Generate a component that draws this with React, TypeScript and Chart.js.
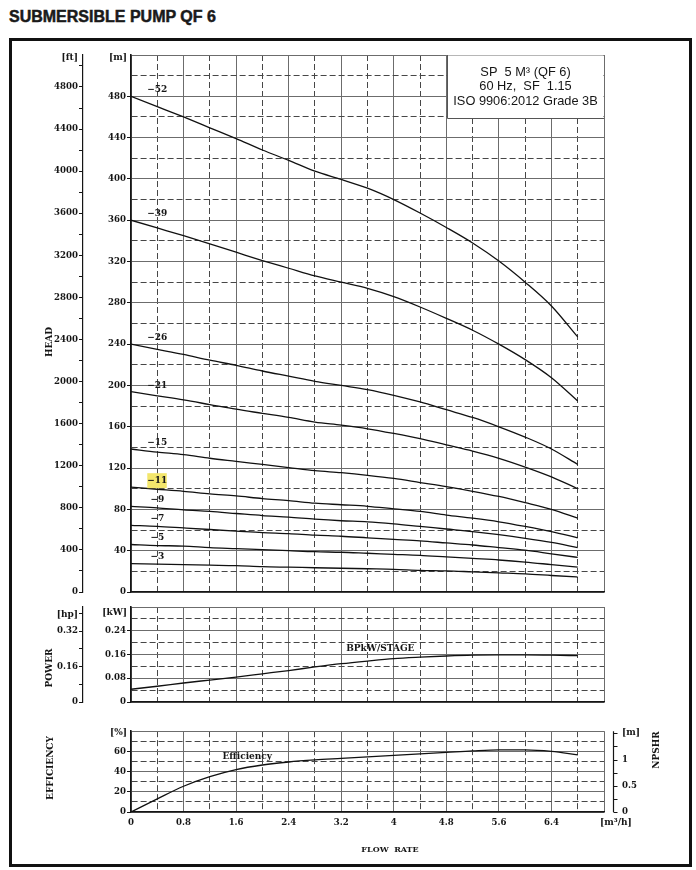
import React, { useEffect, useRef } from 'react';
import { Chart, registerables } from 'chart.js';

Chart.register(...registerables);

// ---------------- data ----------------
const FLOW = [0, 0.4, 0.8, 1.2, 1.6, 2.0, 2.4, 2.8, 3.2, 3.6, 4.0, 4.4, 4.8, 5.2, 5.6, 6.0, 6.4, 6.8];

const STAGES = [52, 39, 26, 21, 15, 11, 9, 7, 5, 3];
const HEAD_52 = [480, 470, 460, 449.5, 439, 428, 418, 407.5, 399.5, 391, 380, 367, 353, 338, 320.5, 300, 277, 247];
const HEAD_39 = [360, 352.5, 345, 337, 329, 321, 313.5, 306, 300, 294, 286, 276, 265, 253.5, 240, 225, 207.5, 185];
const HEAD_26 = [240, 235, 230, 224.5, 219.5, 214, 209, 204, 200, 196, 190.5, 184, 176.5, 169, 160, 150, 138.5, 123.5];
const HEAD_21 = [194, 190, 186, 181.5, 177, 173, 169, 164.5, 161.5, 158, 153.5, 148.5, 142.5, 136.5, 129.5, 121, 111.5, 100];
const HEAD_15 = [138.5, 135.5, 133, 129.5, 126.5, 123.5, 120.5, 117.5, 115.5, 113, 110, 106, 102, 97.5, 92.5, 86.5, 80, 71.5];
const HEAD_11 = [101.5, 99.5, 97.5, 95, 93, 90.5, 88.5, 86, 84.5, 83, 80.5, 78, 74.5, 71.5, 68, 63.5, 58.5, 52.5];
const HEAD_9 = [83, 81.5, 79.5, 78, 76, 74, 72.5, 70.5, 69, 68, 66, 63.5, 61, 58.5, 55.5, 52, 48, 43];
const HEAD_7 = [64.5, 63.5, 62, 60.5, 59, 57.5, 56.5, 55, 54, 52.5, 51, 49.5, 47.5, 45.5, 43, 40.5, 37, 33.5];
const HEAD_5 = [46, 45, 44.5, 43, 42, 41, 40, 39, 38.5, 37.5, 36.5, 35.5, 34, 32.5, 31, 29, 26.5, 24];
const HEAD_3 = [27.5, 27, 26.5, 26, 25.5, 24.5, 24, 23.5, 23, 22.5, 22, 21, 20.5, 19.5, 18.5, 17.5, 16, 14.5];
const HEAD_CURVES = [HEAD_52, HEAD_39, HEAD_26, HEAD_21, HEAD_15, HEAD_11, HEAD_9, HEAD_7, HEAD_5, HEAD_3];
const HIGHLIGHT_STAGE = 11;

const POWER_KW = [0.043, 0.053, 0.064, 0.074, 0.084, 0.095, 0.106, 0.118, 0.129, 0.138, 0.146, 0.151, 0.155, 0.158, 0.159, 0.159, 0.158, 0.156];
const EFFICIENCY = [0, 13, 25.5, 35, 42, 46.5, 49.5, 51.5, 53, 54.5, 56, 57.5, 59, 60.5, 61.5, 61.5, 60, 56.5];

// ---------------- ticks ----------------
const FLOW_TICKS = [0, 0.4, 0.8, 1.2, 1.6, 2, 2.4, 2.8, 3.2, 3.6, 4, 4.4, 4.8, 5.2, 5.6, 6, 6.4, 6.8, 7.2];
const FLOW_MAJOR = [0, 0.8, 1.6, 2.4, 3.2, 4, 4.8, 5.6, 6.4, 7.2];
const FLOW_LABELS = [0, 0.8, 1.6, 2.4, 3.2, 4, 4.8, 5.6, 6.4];

const HEAD_M_TICKS = [0, 20, 40, 60, 80, 100, 120, 140, 160, 180, 200, 220, 240, 260, 280, 300, 320, 340, 360, 380, 400, 420, 440, 460, 480, 500, 520];
const HEAD_M_MAJOR = [0, 40, 80, 120, 160, 200, 240, 280, 320, 360, 400, 440, 480, 520];
const HEAD_M_LABELS = [0, 40, 80, 120, 160, 200, 240, 280, 320, 360, 400, 440, 480];
const HEAD_FT_TICKS = [0, 200, 400, 600, 800, 1000, 1200, 1400, 1600, 1800, 2000, 2200, 2400, 2600, 2800, 3000, 3200, 3400, 3600, 3800, 4000, 4200, 4400, 4600, 4800, 5000];
const HEAD_FT_LABELS = [0, 400, 800, 1200, 1600, 2000, 2400, 2800, 3200, 3600, 4000, 4400, 4800];

const POWER_KW_TICKS = [0, 0.04, 0.08, 0.12, 0.16, 0.2, 0.24, 0.28, 0.32];
const POWER_KW_MAJOR = [0, 0.08, 0.16, 0.24, 0.32];
const POWER_KW_LABELS = [0, 0.08, 0.16, 0.24];
const POWER_HP_TICKS = [0, 0.08, 0.16, 0.24, 0.32, 0.4];
const POWER_HP_LABELS = [0, 0.16, 0.32];

const EFF_TICKS = [0, 10, 20, 30, 40, 50, 60, 70, 80];
const EFF_MAJOR = [0, 20, 40, 60, 80];
const EFF_LABELS = [0, 20, 40, 60];
const NPSH_TICKS = [0, 0.25, 0.5, 0.75, 1, 1.25, 1.5];
const NPSH_LABELS = [0, 0.5, 1];

// ---------------- styles ----------------
const SERIF = "'DejaVu Serif', 'Liberation Serif', serif";
const SANS = "'Liberation Sans', Arial, sans-serif";
const TICK_FONT = { family: SERIF, size: 8.6, weight: 'bold' as const };
const TEXT = '#161616';
const AXIS = '#151515';
const SOLID = '#6c6c6c';
const DASHED = '#474747';
const CLEAR = 'rgba(0,0,0,0)';
const CURVE = '#111';

const HEAD_BOX = { left: 12, top: 42, width: 600, height: 560 };
const POWER_BOX = { left: 12, top: 598, width: 600, height: 116 };
const EFF_BOX = { left: 12, top: 708, width: 678, height: 154 };

// ---------------- helpers ----------------
const inList = (arr: number[], v: number) => arr.some((a) => Math.abs(a - v) < 1e-9);
const setTicks = (values: number[]) => (scale: any) => {
  scale.ticks = values.map((value) => ({ value }));
};
const fixWidth = (w: number) => (scale: any) => {
  scale.width = w;
};
const fixHeight = (h: number) => (scale: any) => {
  scale.height = h;
};

function gridOpts(major: number[], extra: any = {}) {
  return {
    grid: {
      color: (c: any) => (c.tick && inList(major, c.tick.value) ? SOLID : DASHED),
      lineWidth: 1,
      drawTicks: false,
      ...extra,
    },
    border: {
      color: AXIS,
      width: 1.6,
      dash: (c: any) => (c.tick && !inList(major, c.tick.value) ? [6, 3] : []),
    },
  };
}

function flowAxis(showLabels: boolean, height: number) {
  return {
    type: 'linear',
    position: 'bottom',
    min: 0,
    max: 7.2,
    afterBuildTicks: setTicks(FLOW_TICKS),
    ticks: {
      display: showLabels,
      autoSkip: false,
      maxRotation: 0,
      minRotation: 0,
      padding: 6,
      font: TICK_FONT,
      color: TEXT,
      callback: (v: number) => (inList(FLOW_LABELS, v) ? String(v) : ''),
    },
    ...gridOpts(FLOW_MAJOR),
    afterFit: fixHeight(height),
  };
}

function leftAxis(min: number, max: number, ticks: number[], major: number[], labels: number[], width: number) {
  return {
    type: 'linear',
    position: 'left',
    weight: 0,
    min,
    max,
    afterBuildTicks: setTicks(ticks),
    ticks: {
      autoSkip: false,
      padding: 1,
      font: TICK_FONT,
      color: TEXT,
      callback: (v: number) => (inList(labels, v) ? String(v) : ''),
    },
    ...gridOpts(major, {
      drawTicks: true,
      tickLength: 4,
      tickWidth: 1,
      tickColor: (c: any) => (c.tick && inList(labels, c.tick.value) ? AXIS : CLEAR),
    }),
    afterFit: fixWidth(width),
  };
}

function outerAxis(max: number, ticks: number[], labels: number[], width: number) {
  return {
    type: 'linear',
    position: 'left',
    weight: 1,
    min: 0,
    max,
    afterBuildTicks: setTicks(ticks),
    ticks: {
      autoSkip: false,
      padding: 1,
      font: TICK_FONT,
      color: TEXT,
      callback: (v: number) => (inList(labels, v) ? String(v) : ''),
    },
    grid: { drawOnChartArea: false, drawTicks: true, tickLength: 4, tickWidth: 1, tickColor: AXIS, color: AXIS },
    border: { color: AXIS, width: 1.2 },
    afterFit: fixWidth(width),
  };
}

function txt(ctx: CanvasRenderingContext2D, s: string, x: number, y: number, font: string, align: CanvasTextAlign = 'center') {
  ctx.save();
  ctx.font = font;
  ctx.fillStyle = TEXT;
  ctx.textAlign = align;
  ctx.textBaseline = 'middle';
  ctx.fillText(s, x, y);
  ctx.restore();
}
function vtxt(ctx: CanvasRenderingContext2D, s: string, x: number, y: number, font: string) {
  ctx.save();
  ctx.translate(x, y);
  ctx.rotate(-Math.PI / 2);
  ctx.font = font;
  ctx.fillStyle = TEXT;
  ctx.textAlign = 'center';
  ctx.textBaseline = 'middle';
  ctx.fillText(s, 0, 0);
  ctx.restore();
}

const LABEL_FONT = `bold 9px ${SERIF}`;
const UNIT_FONT = `bold 9px ${SERIF}`;

function lineDataset(values: number[]) {
  return {
    data: FLOW.map((x, i) => ({ x, y: values[i] })),
    borderColor: CURVE,
    borderWidth: 1.3,
    pointRadius: 0,
    fill: false,
    cubicInterpolationMode: 'monotone' as const,
  };
}

const baseOptions = (padding: any) => ({
  animation: false,
  responsive: false,
  maintainAspectRatio: false,
  events: [],
  layout: { padding },
  plugins: { legend: { display: false }, tooltip: { enabled: false }, title: { display: false } },
});

// ---------------- chart configs ----------------
function headConfig(): any {
  const B = HEAD_BOX;
  const deco = {
    id: 'headDeco',
    beforeDatasetsDraw(chart: any) {
      const { ctx, chartArea: a } = chart;
      const w = 157;
      const h = 63;
      ctx.save();
      ctx.fillStyle = '#fff';
      ctx.fillRect(a.right - w, a.top + 0.5, w - 0.5, h);
      ctx.strokeStyle = '#555';
      ctx.lineWidth = 1;
      ctx.beginPath();
      ctx.moveTo(a.right - w + 0.5, a.top);
      ctx.lineTo(a.right - w + 0.5, a.top + h + 0.5);
      ctx.lineTo(a.right, a.top + h + 0.5);
      ctx.stroke();
      ctx.restore();
      const cx = a.right - w / 2;
      const f = `12.8px ${SANS}`;
      txt(ctx, 'SP  5 M³ (QF 6)', cx, a.top + 17.5, f);
      txt(ctx, '60 Hz,  SF  1.15', cx, a.top + 31.5, f);
      txt(ctx, 'ISO 9906:2012 Grade 3B', cx, a.top + 46.5, f);
    },
    afterDatasetsDraw(chart: any) {
      const { ctx, scales } = chart;
      const xs = scales.x;
      const ys = scales.y;
      STAGES.forEach((st, i) => {
        const cx = xs.getPixelForValue(0.4);
        const cy = ys.getPixelForValue(HEAD_CURVES[i][0]) - 6.5;
        if (st === HIGHLIGHT_STAGE) {
          ctx.save();
          ctx.fillStyle = '#f3e66c';
          ctx.fillRect(cx - 10, cy - 7.5, 19.5, 15);
          ctx.restore();
        }
        txt(ctx, `−${st}`, cx, cy, LABEL_FONT);
      });
      const a = chart.chartArea;
      txt(ctx, '[ft]', 78 - B.left, a.top + 2.5, UNIT_FONT, 'right');
      txt(ctx, '[m]', 127 - B.left, a.top + 2.5, UNIT_FONT, 'right');
      vtxt(ctx, 'HEAD', 50 - B.left, 342 - B.top, LABEL_FONT);
    },
  };
  return {
    type: 'line',
    data: { datasets: HEAD_CURVES.map((c) => lineDataset(c)) },
    options: {
      ...baseOptions({ left: 0, top: 13, right: 8, bottom: 10 }),
      scales: {
        x: flowAxis(false, 0),
        y: leftAxis(0, 520, HEAD_M_TICKS, HEAD_M_MAJOR, HEAD_M_LABELS, 48),
        ft: outerAxis(5104, HEAD_FT_TICKS, HEAD_FT_LABELS, 71),
      },
    },
    plugins: [deco],
  };
}

function powerConfig(): any {
  const B = POWER_BOX;
  const deco = {
    id: 'powerDeco',
    afterDatasetsDraw(chart: any) {
      const { ctx, scales, chartArea: a } = chart;
      txt(ctx, 'BPkW/STAGE', scales.x.getPixelForValue(3.795), scales.y.getPixelForValue(0.18), LABEL_FONT);
      txt(ctx, '[hp]', 78 - B.left, a.top + 7.5, UNIT_FONT, 'right');
      txt(ctx, '[kW]', 127 - B.left, a.top + 6, UNIT_FONT, 'right');
      vtxt(ctx, 'POWER', 50 - B.left, 668 - B.top, LABEL_FONT);
    },
  };
  return {
    type: 'line',
    data: { datasets: [lineDataset(POWER_KW)] },
    options: {
      ...baseOptions({ left: 0, top: 9, right: 8, bottom: 12 }),
      scales: {
        x: flowAxis(false, 0),
        y: leftAxis(0, 0.32, POWER_KW_TICKS, POWER_KW_MAJOR, POWER_KW_LABELS, 48),
        hp: outerAxis(0.4291, POWER_HP_TICKS, POWER_HP_LABELS, 71),
      },
    },
    plugins: [deco],
  };
}

function effConfig(): any {
  const B = EFF_BOX;
  const deco = {
    id: 'effDeco',
    afterDatasetsDraw(chart: any) {
      const { ctx, scales, chartArea: a } = chart;
      const ns = scales.npsh;
      const lx = Math.round(a.right + 9) + 0.5;
      ctx.save();
      ctx.strokeStyle = AXIS;
      ctx.lineWidth = 1.2;
      ctx.beginPath();
      ctx.moveTo(lx, a.top);
      ctx.lineTo(lx, a.bottom);
      NPSH_TICKS.forEach((v) => {
        const y = Math.round(ns.getPixelForValue(v)) + 0.5;
        ctx.moveTo(lx, y);
        ctx.lineTo(lx + 4, y);
      });
      ctx.stroke();
      ctx.restore();
      txt(ctx, 'Efficiency', scales.x.getPixelForValue(1.77), scales.y.getPixelForValue(55.2), LABEL_FONT);
      txt(ctx, '[%]', 127 - B.left, a.top + 1, UNIT_FONT, 'right');
      txt(ctx, '[m]', 622 - B.left, a.top + 1, UNIT_FONT, 'left');
      txt(ctx, '[m³/h]', 600 - B.left, 823 - B.top, UNIT_FONT, 'left');
      txt(ctx, 'FLOW  RATE', 390 - B.left, 850 - B.top, `bold 8px ${SERIF}`);
      vtxt(ctx, 'EFFICIENCY', 51 - B.left, 768 - B.top, LABEL_FONT);
      vtxt(ctx, 'NPSHR', 657 - B.left, 750 - B.top, LABEL_FONT);
    },
  };
  return {
    type: 'line',
    data: { datasets: [lineDataset(EFFICIENCY)] },
    options: {
      ...baseOptions({ left: 71, top: 9, right: 0, bottom: 0 }),
      scales: {
        x: flowAxis(true, 50),
        y: leftAxis(0, 80, EFF_TICKS, EFF_MAJOR, EFF_LABELS, 48),
        npsh: {
          type: 'linear',
          position: 'right',
          min: 0,
          max: 1.54,
          afterBuildTicks: setTicks(NPSH_TICKS),
          ticks: {
            autoSkip: false,
            padding: 18,
            font: TICK_FONT,
            color: TEXT,
            callback: (v: number) => (inList(NPSH_LABELS, v) ? String(v) : ''),
          },
          grid: { drawOnChartArea: false, drawTicks: false },
          border: { display: false },
          afterFit: fixWidth(86),
        },
      },
    },
    plugins: [deco],
  };
}

export default function App() {
  const headRef = useRef<HTMLCanvasElement>(null);
  const powerRef = useRef<HTMLCanvasElement>(null);
  const effRef = useRef<HTMLCanvasElement>(null);

  useEffect(() => {
    const charts = [
      new Chart(headRef.current as HTMLCanvasElement, headConfig()),
      new Chart(powerRef.current as HTMLCanvasElement, powerConfig()),
      new Chart(effRef.current as HTMLCanvasElement, effConfig()),
    ];
    return () => charts.forEach((c) => c.destroy());
  }, []);

  const canvasStyle = (b: { left: number; top: number; width: number; height: number }) => ({
    position: 'absolute' as const,
    left: b.left,
    top: b.top,
    width: b.width,
    height: b.height,
    display: 'block',
  });

  return (
    <div style={{ position: 'absolute', left: 0, top: 0, width: 696, height: 870, background: '#fff', overflow: 'hidden' }}>
      <div
        style={{
          position: 'absolute',
          left: 9,
          top: 9,
          font: `bold 16px ${SANS}`,
          lineHeight: '16px',
          color: '#1a1a1a',
          whiteSpace: 'nowrap',
          WebkitTextStroke: '0.5px #1a1a1a',
        }}
      >
        SUBMERSIBLE PUMP QF 6
      </div>
      <div
        style={{
          position: 'absolute',
          left: 9,
          top: 38,
          width: 683,
          height: 829,
          border: '3px solid #111',
          boxSizing: 'border-box',
        }}
      />
      <canvas ref={headRef} width={HEAD_BOX.width} height={HEAD_BOX.height} style={canvasStyle(HEAD_BOX)} />
      <canvas ref={powerRef} width={POWER_BOX.width} height={POWER_BOX.height} style={canvasStyle(POWER_BOX)} />
      <canvas ref={effRef} width={EFF_BOX.width} height={EFF_BOX.height} style={canvasStyle(EFF_BOX)} />
    </div>
  );
}
